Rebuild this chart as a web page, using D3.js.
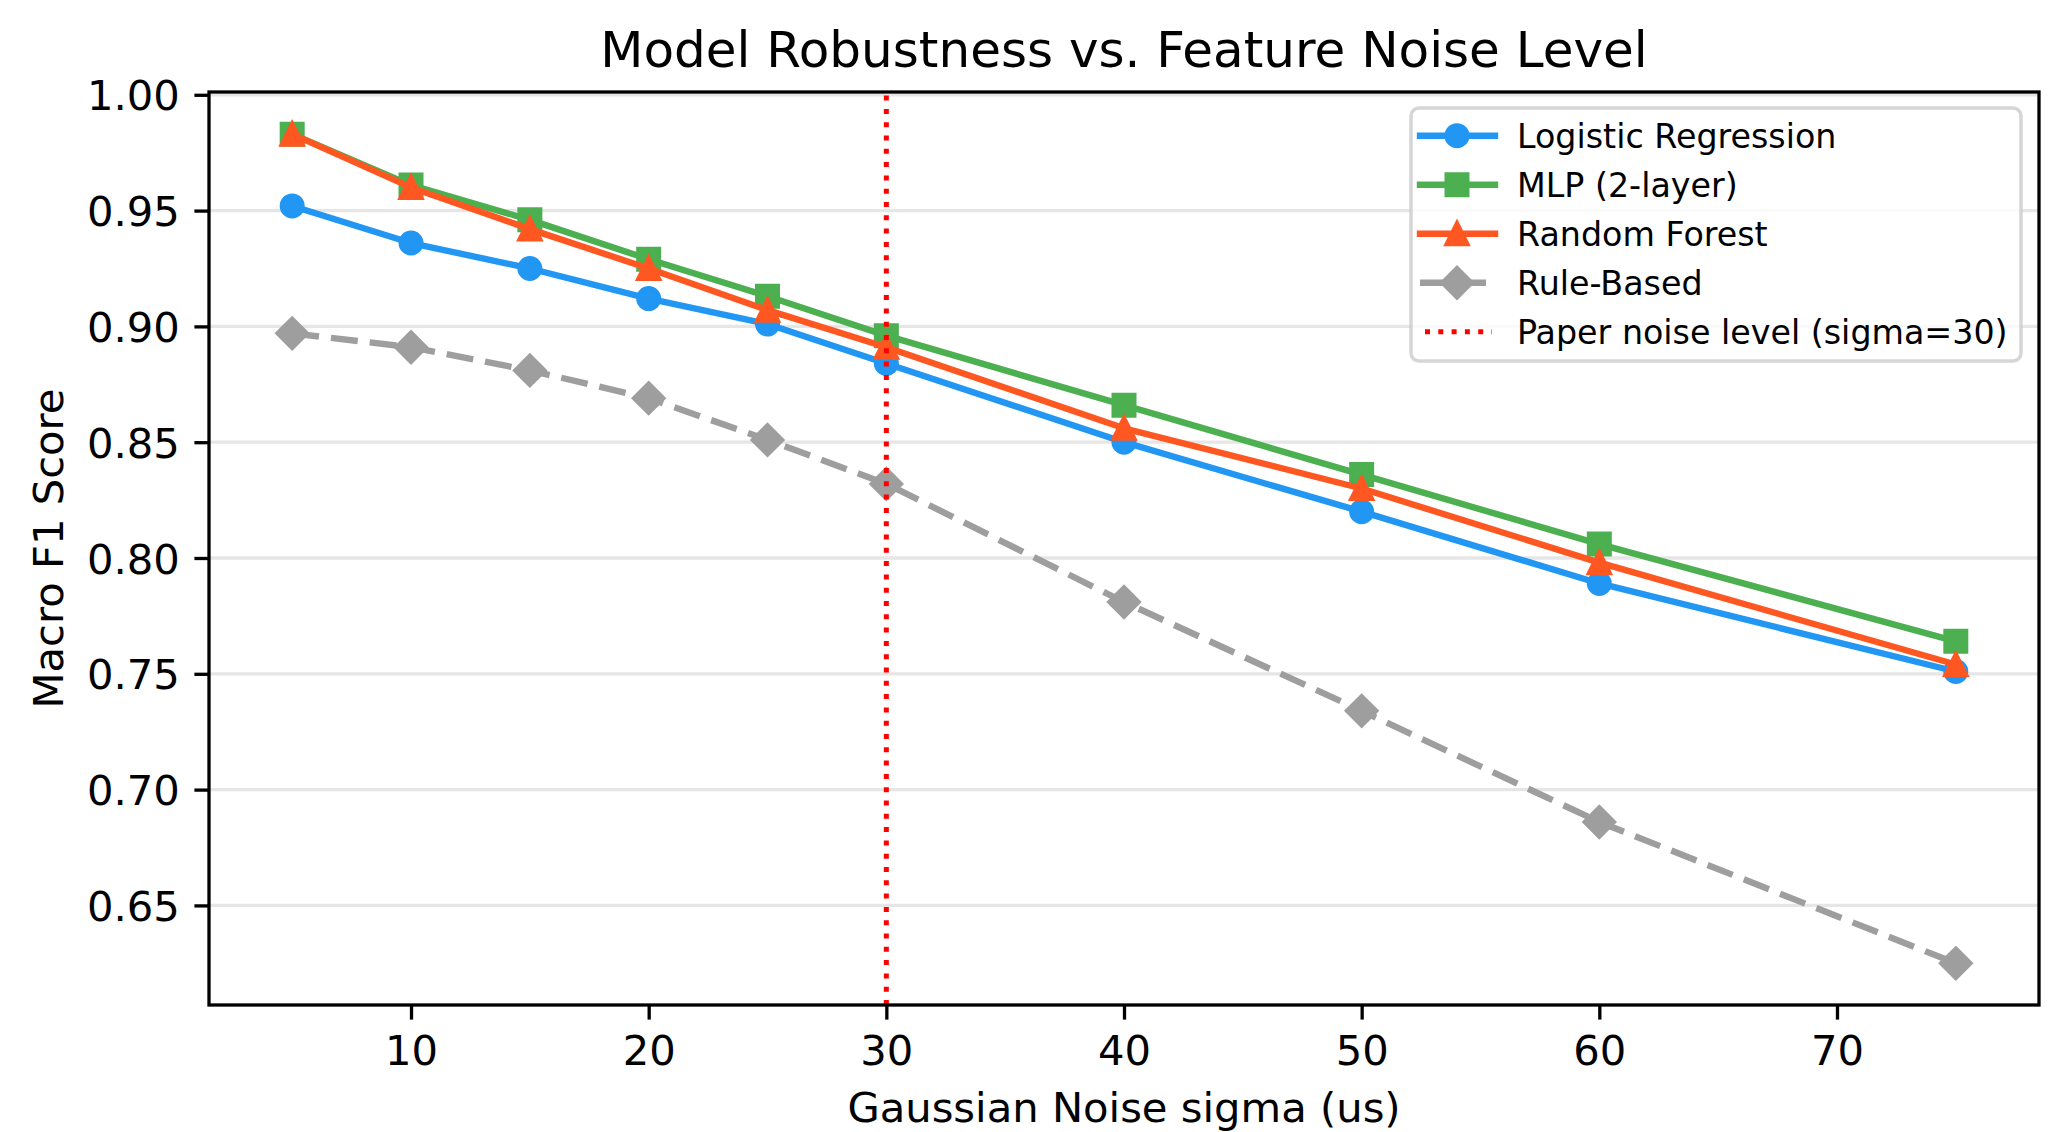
<!DOCTYPE html>
<html>
<head>
<meta charset="utf-8">
<script src="https://cdn.jsdelivr.net/npm/d3@7"></script>
<style>
  body { margin: 0; background: #fff; }
  text { font-family: "DejaVu Sans", sans-serif; fill: #000; }
</style>
</head>
<body>
<div id="chart"></div>
<script>
// chart data
var noiseSigma = [5, 10, 15, 20, 25, 30, 40, 50, 60, 75];
var logisticRegression = [0.952, 0.936, 0.925, 0.912, 0.901, 0.884, 0.850, 0.820, 0.789, 0.751];
var mlpTwoLayer = [0.983, 0.961, 0.946, 0.929, 0.913, 0.896, 0.866, 0.836, 0.806, 0.764];
var randomForest = [0.983, 0.960, 0.942, 0.925, 0.907, 0.891, 0.856, 0.830, 0.798, 0.754];
var ruleBased = [0.897, 0.891, 0.881, 0.869, 0.851, 0.832, 0.781, 0.734, 0.686, 0.625];
var seriesNames = ["Logistic Regression", "MLP (2-layer)", "Random Forest", "Rule-Based"];
var paperNoiseLevel = 30;
var paperLabel = "Paper noise level (sigma=30)";
var xTicks = [10, 20, 30, 40, 50, 60, 70];
var yTicks = [0.65, 0.70, 0.75, 0.80, 0.85, 0.90, 0.95, 1.00];

// SVG area
var svgWidth = 2069;
var svgHeight = 1132;

var plot = { left: 209, right: 2039, top: 92, bottom: 1005 };

var svg = d3.select("#chart")
    .append("svg")
    .attr("width", svgWidth)
    .attr("height", svgHeight);

svg.append("rect")
    .attr("width", svgWidth)
    .attr("height", svgHeight)
    .attr("fill", "#fff");

var xScale = d3.scaleLinear()
    .domain([1.5, 78.5])
    .range([plot.left, plot.right]);

var yScale = d3.scaleLinear()
    .domain([0.607, 1.0012])
    .range([plot.bottom, plot.top]);

// horizontal grid
svg.append("g")
    .selectAll("line")
    .data(yTicks)
    .enter()
    .append("line")
        .attr("x1", plot.left)
        .attr("x2", plot.right)
        .attr("y1", d => yScale(d))
        .attr("y2", d => yScale(d))
        .attr("stroke", "#e6e6e6")
        .attr("stroke-width", 3.3);

// series
var series = [
  { name: seriesNames[0], values: logisticRegression, color: "#2196F3", marker: "circle", dash: null },
  { name: seriesNames[1], values: mlpTwoLayer, color: "#4CAF50", marker: "square", dash: null },
  { name: seriesNames[2], values: randomForest, color: "#FF5722", marker: "triangle", dash: null },
  { name: seriesNames[3], values: ruleBased, color: "#9E9E9E", marker: "diamond", dash: "27,12" }
];

var m = 10.4; // half marker size
function markerPath(kind) {
  if (kind === "circle") return d3.arc()({ innerRadius: 0, outerRadius: m, startAngle: 0, endAngle: 2 * Math.PI });
  if (kind === "square") return `M${-m},${-m}H${m}V${m}H${-m}Z`;
  if (kind === "triangle") return `M0,${-m}L${m},${m}L${-m},${m}Z`;
  var d = m * Math.SQRT2;
  return `M0,${-d}L${d},0L0,${d}L${-d},0Z`;
}

var line = d3.line()
    .x((d, i) => xScale(noiseSigma[i]))
    .y(d => yScale(d));

series.forEach(function(s) {
  var g = svg.append("g");
  g.append("path")
      .attr("d", line(s.values))
      .attr("fill", "none")
      .attr("stroke", s.color)
      .attr("stroke-width", 6.4)
      .attr("stroke-linejoin", "round")
      .attr("stroke-dasharray", s.dash);
  g.selectAll("path.mk")
      .data(s.values)
      .enter()
      .append("path")
        .attr("class", "mk")
        .attr("d", markerPath(s.marker))
        .attr("transform", (d, i) => `translate(${xScale(noiseSigma[i])},${yScale(d)})`)
        .attr("fill", s.color)
        .attr("stroke", s.color)
        .attr("stroke-width", 4.2)
        .attr("stroke-linejoin", "miter");
});

// paper noise level marker line
svg.append("line")
    .attr("x1", xScale(paperNoiseLevel))
    .attr("x2", xScale(paperNoiseLevel))
    .attr("y1", plot.bottom)
    .attr("y2", plot.top)
    .attr("stroke", "red")
    .attr("stroke-width", 5)
    .attr("stroke-dasharray", "5,8.3");

// axes
var xAxis = d3.axisBottom(xScale).tickValues(xTicks).tickSize(14.6).tickPadding(14.6);
var yAxis = d3.axisLeft(yScale).tickValues(yTicks).tickSize(14.6).tickPadding(14.6).tickFormat(d3.format(".2f"));

var xg = svg.append("g")
    .attr("transform", `translate(0,${plot.bottom})`)
    .call(xAxis);
var yg = svg.append("g")
    .attr("transform", `translate(${plot.left},0)`)
    .call(yAxis);

[xg, yg].forEach(function(g) {
  g.select(".domain").remove();
  g.selectAll(".tick line").attr("stroke", "#000").attr("stroke-width", 3.3);
  g.selectAll(".tick text")
      .attr("font-family", "DejaVu Sans")
      .attr("font-size", 41.7)
      .attr("fill", "#000");
});
xg.selectAll(".tick text").attr("dy", "0.74em");
yg.selectAll(".tick text").attr("dy", "0.36em");

// spines
svg.append("rect")
    .attr("x", plot.left)
    .attr("y", plot.top)
    .attr("width", plot.right - plot.left)
    .attr("height", plot.bottom - plot.top)
    .attr("fill", "none")
    .attr("stroke", "#000")
    .attr("stroke-width", 3.3);

// labels
svg.append("text")
    .attr("x", (plot.left + plot.right) / 2)
    .attr("y", 67)
    .attr("text-anchor", "middle")
    .attr("font-size", 50)
    .text("Model Robustness vs. Feature Noise Level");

svg.append("text")
    .attr("x", (plot.left + plot.right) / 2)
    .attr("y", 1122)
    .attr("text-anchor", "middle")
    .attr("font-size", 41.7)
    .text("Gaussian Noise sigma (us)");

svg.append("text")
    .attr("transform", `translate(63,${(plot.top + plot.bottom) / 2}) rotate(-90)`)
    .attr("text-anchor", "middle")
    .attr("font-size", 41.7)
    .text("Macro F1 Score");

// legend
var legend = svg.append("g").attr("transform", "translate(1411,108)");
legend.append("rect")
    .attr("width", 610)
    .attr("height", 253)
    .attr("rx", 8)
    .attr("fill", "#fff")
    .attr("fill-opacity", 0.8)
    .attr("stroke", "#cccccc")
    .attr("stroke-opacity", 0.8)
    .attr("stroke-width", 3.5);

var legendItems = series.concat([{ name: paperLabel, color: "red", marker: null, dash: "5,8.3" }]);
legendItems.forEach(function(s, i) {
  var cy = 27.7 + i * 49;
  var item = legend.append("g").attr("transform", `translate(0,${cy})`);
  var isRef = s.marker === null;
  item.append("line")
      .attr("x1", isRef ? 14 : 9)
      .attr("x2", isRef ? 81 : 84)
      .attr("stroke", s.color)
      .attr("stroke-width", isRef ? 5 : 6.4)
      .attr("stroke-linecap", s.dash ? "butt" : "square")
      .attr("stroke-dasharray", s.dash);
  if (!isRef) {
    item.append("path")
        .attr("d", markerPath(s.marker))
        .attr("transform", "translate(46,0)")
        .attr("fill", s.color)
        .attr("stroke", s.color)
        .attr("stroke-width", 4.2);
  }
  item.append("text")
      .attr("x", 106)
      .attr("y", 12.5)
      .attr("font-size", 33.3)
      .text(s.name);
});
</script>
</body>
</html>
